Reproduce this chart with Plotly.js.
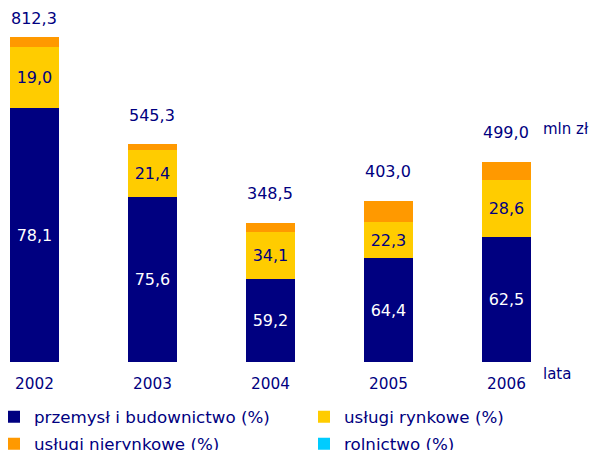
<!DOCTYPE html>
<html>
<head>
<meta charset="utf-8">
<script src="https://cdn.plot.ly/plotly-3.0.1.min.js"></script>
<style>html,body{margin:0;padding:0;background:#fff;}#chart{width:592px;height:450px;}</style>
</head>
<body>
<div id="chart"></div>
<script>
// Data
var years = ['2002', '2003', '2004', '2005', '2006'];
var totals = [812.3, 545.3, 348.5, 403.0, 499.0];            // mln zł
var przemysl = [78.1, 75.6, 59.2, 64.4, 62.5];               // %
var uslugiRynkowe = [19.0, 21.4, 34.1, 22.3, 28.6];          // %
var uslugiNierynkowe = [2.9, 3.0, 6.7, 13.3, 8.9];           // %
var rolnictwo = [0, 0, 0, 0, 0];                             // %

var navy = '#000080', yellow = '#FFCC00', orange = '#FF9900', cyan = '#00CCFF';
var textColor = '#000080';
var font = 'DejaVu Sans, Verdana, sans-serif';

function fmt(v) { return v.toFixed(1).replace('.', ','); }
function part(pcts) { return pcts.map(function (p, i) { return totals[i] * p / 100; }); }

var barWidth = 0.41;

function trace(name, pcts, color, showText, txtColor, legendId) {
  return {
    type: 'bar', name: name, x: years, y: part(pcts),
    marker: { color: color, line: { width: 0 } },
    width: barWidth,
    text: showText ? pcts.map(fmt) : undefined,
    textposition: showText ? 'inside' : 'none',
    insidetextanchor: 'middle',
    textfont: { family: font, size: 16, color: txtColor },
    hoverinfo: 'x+name',
    legend: legendId
  };
}

var data = [
  trace('przemysł i budownictwo (%)', przemysl, navy, true, '#ffffff', 'legend'),
  trace('usługi rynkowe (%)', uslugiRynkowe, yellow, true, textColor, 'legend2'),
  trace('usługi nierynkowe (%)', uslugiNierynkowe, orange, false, textColor, 'legend3'),
  trace('rolnictwo (%)', rolnictwo, cyan, false, textColor, 'legend4')
];

var labelShift = [7, 17, 18, 18, 18];
var annotations = years.map(function (y, i) {
  return {
    x: i, y: totals[i], xref: 'x', yref: 'y', text: fmt(totals[i]),
    showarrow: false, yanchor: 'bottom', yshift: labelShift[i],
    font: { family: font, size: 16, color: textColor }
  };
});
annotations.push({ x: 541 / 592, y: (362 - 129) / 362, xref: 'paper', yref: 'paper', xanchor: 'left', yanchor: 'middle',
  text: 'mln zł', showarrow: false, font: { family: font, size: 15, color: textColor } });
annotations.push({ x: 541 / 592, y: (362 - 374) / 362, xref: 'paper', yref: 'paper', xanchor: 'left', yanchor: 'middle',
  text: 'lata', showarrow: false, font: { family: font, size: 15, color: textColor } });

function legendAt(px, py) {
  return {
    orientation: 'h', x: px / 592, xanchor: 'left', y: (362 - py) / 362, yanchor: 'middle',
    font: { family: font, size: 16.7, color: textColor },
    bgcolor: 'rgba(0,0,0,0)', borderwidth: 0
  };
}

var layout = {
  width: 592, height: 450,
  margin: { l: 0, r: 0, t: 0, b: 88, pad: 0, autoexpand: false },
  paper_bgcolor: '#ffffff', plot_bgcolor: '#ffffff',
  barmode: 'stack',
  showlegend: true,
  xaxis: {
    type: 'category', range: [-0.292, 4.725],
    showgrid: false, zeroline: false, showline: false, ticks: '',
    ticklabelstandoff: 11,
    tickfont: { family: font, size: 15.3, color: textColor }
  },
  yaxis: { range: [0, 905], visible: false, showgrid: false, zeroline: false },
  legend: legendAt(-6, 417),
  legend2: legendAt(304, 417),
  legend3: legendAt(-6, 444),
  legend4: legendAt(304, 444),
  annotations: annotations
};

Plotly.newPlot('chart', data, layout, { displayModeBar: false, staticPlot: true });
</script>
</body>
</html>
